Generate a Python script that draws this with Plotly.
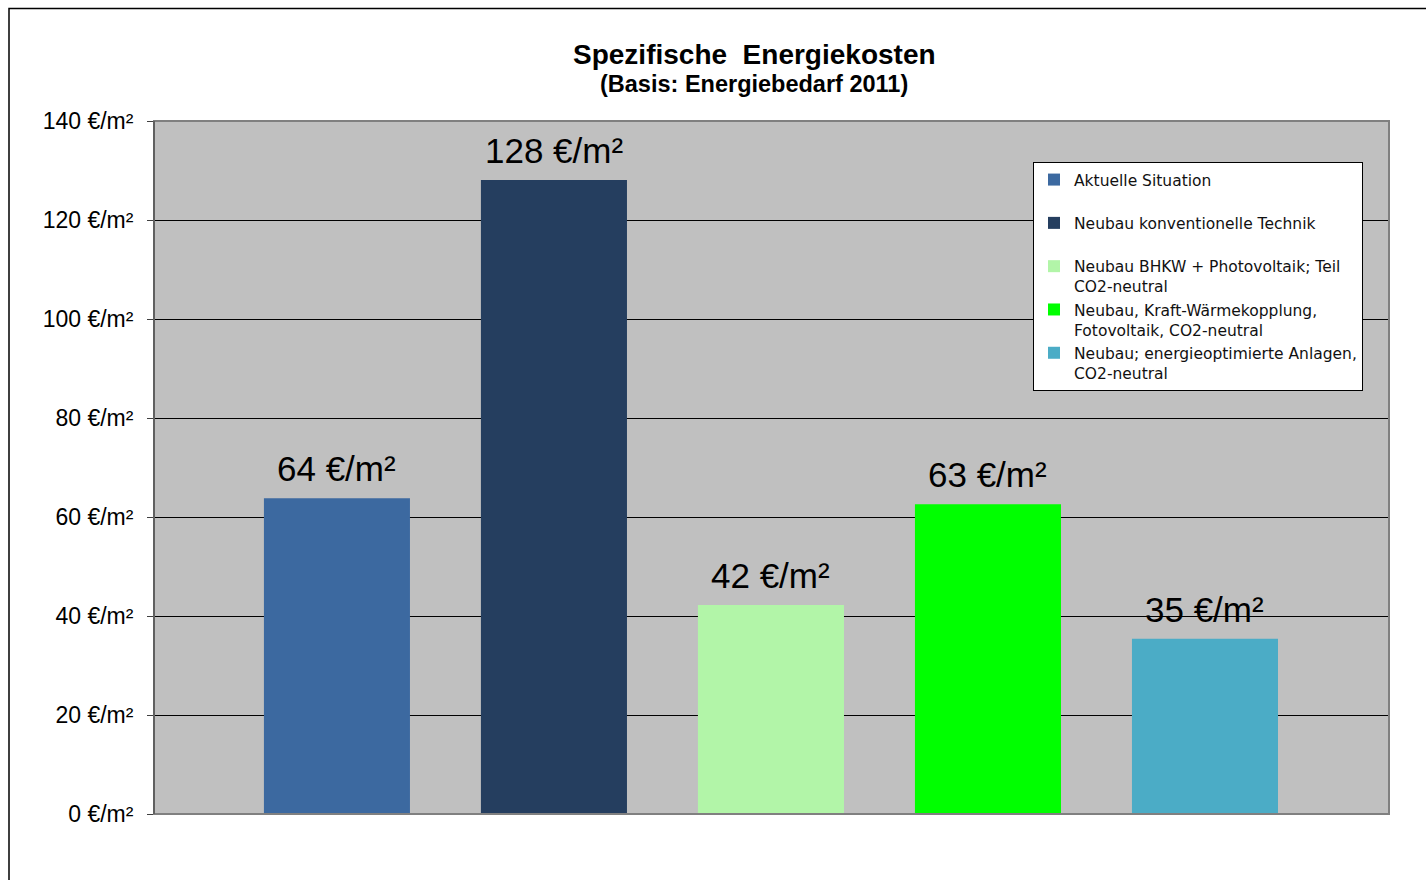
import plotly.graph_objects as go

categories = [
    "Aktuelle Situation",
    "Neubau konventionelle Technik",
    "Neubau BHKW + Photovoltaik; Teil<br>CO2-neutral",
    "Neubau, Kraft-Wärmekopplung,<br>Fotovoltaik, CO2-neutral",
    "Neubau; energieoptimierte Anlagen,<br>CO2-neutral",
]
values = [63.8, 128.1, 42.2, 62.6, 35.4]
colors = ["#3C69A0", "#253E5F", "#B2F5A8", "#00FF00", "#4BACC6"]
y_ticks = [0, 20, 40, 60, 80, 100, 120, 140]
title_main = "Spezifische  Energiekosten"
title_sub = "(Basis: Energiebedarf 2011)"

FONT = "Liberation Sans, Arial, sans-serif"
LEG_FONT = "DejaVu Sans, Liberation Sans, sans-serif"

fig = go.Figure()
for i, (cat, val, col) in enumerate(zip(categories, values, colors)):
    name = cat if "<br>" in cat else cat + "<br>\u00a0"
    fig.add_trace(go.Bar(
        x=[i], y=[val], name=name,
        marker=dict(color=col, line=dict(width=0)),
        hoverinfo="skip",
    ))

# value labels above each bar, positioned in data coordinates
label_annotations = [
    dict(x=i, y=val, xref="x", yref="y", text=f"{val:.0f} €/m²",
         showarrow=False, xanchor="center", yanchor="bottom", yshift=8,
         font=dict(size=35, family=FONT, color="black"))
    for i, val in enumerate(values)
]

W, H = 1426, 880
L, R, T, B = 154, 37, 121, 66
pw, ph = W - L - R, H - T - B

def px_x(x):
    return (x - L) / pw

def px_y(y):
    return (H - B - y) / ph

fig.update_layout(
    width=W, height=H,
    margin=dict(l=L, r=R, t=T, b=B, autoexpand=False),
    paper_bgcolor="white",
    plot_bgcolor="#C0C0C0",
    barmode="overlay",
    bargap=0.327,
    font=dict(family=FONT, color="black"),
    showlegend=True,
    legend=dict(
        x=px_x(1033), y=px_y(162), xanchor="left", yanchor="top",
        bgcolor="white", bordercolor="black", borderwidth=1,
        font=dict(size=15.5, family=LEG_FONT, color="#111111"),
        valign="top", tracegroupgap=0, itemwidth=30,
    ),
    xaxis=dict(
        range=[-0.843, 4.848], showticklabels=False, ticks="", showgrid=False,
        zeroline=False, showline=False, fixedrange=True,
    ),
    yaxis=dict(
        range=[0, 140], tickvals=y_ticks,
        ticktext=[f"{v} €/m²" for v in y_ticks],
        ticks="outside", ticklen=6, tickcolor="#404040", tickwidth=1,
        ticklabelstandoff=9,
        tickfont=dict(size=23, family=FONT, color="black"),
        showgrid=True, gridcolor="black", gridwidth=1,
        zeroline=False, showline=True, linecolor="#404040", linewidth=1,
    ),
    shapes=[
        dict(type="rect", xref="paper", yref="paper", x0=0, y0=0, x1=1, y1=1,
             line=dict(color="#808080", width=2), layer="above"),
        dict(type="line", xref="paper", yref="paper", x0=0, y0=0, x1=0, y1=1,
             line=dict(color="#404040", width=1), layer="above"),
        dict(type="rect", xref="paper", yref="paper",
             x0=px_x(9), y0=px_y(960), x1=px_x(1500), y1=px_y(8.5),
             line=dict(color="black", width=1.5), layer="below"),
    ],
    annotations=[
        dict(text="<b>" + title_main + "</b>", xref="paper", yref="paper",
             x=px_x(754), y=px_y(55), xanchor="center", yanchor="middle",
             showarrow=False, font=dict(size=28, family=FONT, color="black")),
        dict(text="<b>" + title_sub + "</b>", xref="paper", yref="paper",
             x=px_x(754), y=px_y(84), xanchor="center", yanchor="middle",
             showarrow=False, font=dict(size=23.5, family=FONT, color="black")),
    ] + label_annotations,
)

fig.write_html(
    "out.html",
    config={"displayModeBar": False},
    post_script="document.body.style.margin='0';document.body.style.overflow='hidden';",
)
